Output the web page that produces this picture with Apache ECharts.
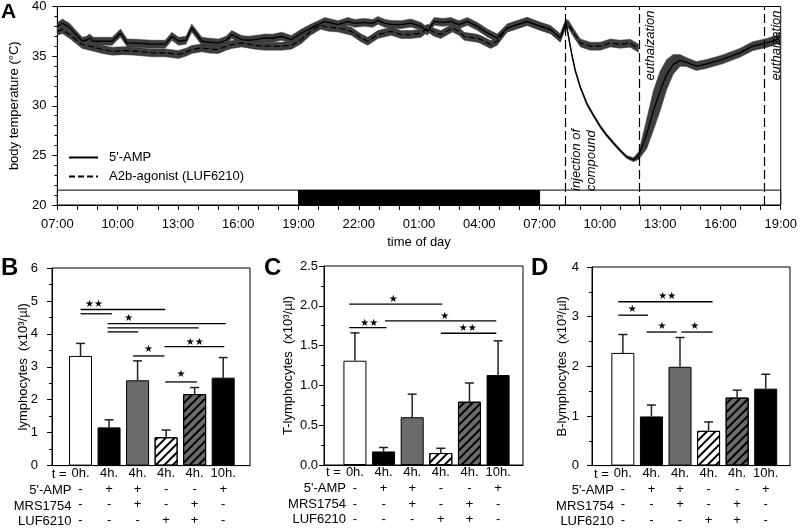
<!DOCTYPE html>
<html>
<head>
<meta charset="utf-8">
<script src="https://cdn.jsdelivr.net/npm/echarts@6/dist/echarts.min.js"></script>
<style>
    html, body { margin: 0; padding: 0; background: #fff; }
    #main { width: 800px; height: 528px; }
</style>
</head>
<body>
<div id="main"></div>
<script>
    // ---- panel A: body temperature, [hours after 07:00, mean, sem] ----
    var ampTemp = [
        [0, 38.0, 0.4], [0.25, 38.33, 0.4], [0.6, 37.9, 0.4], [1.24, 36.5, 0.4], [1.45, 36.6, 0.4], [1.6, 36.83, 0.4],
        [1.8, 36.5, 0.4], [2.23, 36.5, 0.4], [2.73, 36.5, 0.4], [3.14, 37.33, 0.4], [3.47, 36.33, 0.4], [3.88, 36.3, 0.4],
        [4.71, 36.2, 0.4], [5.37, 36.2, 0.4], [5.7, 37.0, 0.4], [6.03, 36.5, 0.4], [6.4, 36.6, 0.4], [6.69, 37.83, 0.4],
        [7.19, 36.5, 0.4], [7.6, 36.4, 0.4], [8.02, 36.33, 0.4], [8.4, 36.6, 0.4], [8.68, 37.17, 0.4], [9.17, 36.67, 0.4],
        [9.5, 36.6, 0.4], [9.83, 36.67, 0.4], [10.33, 36.83, 0.4], [10.7, 36.8, 0.4], [11.16, 37.0, 0.4], [11.65, 36.67, 0.4],
        [12.15, 37.33, 0.4], [12.6, 37.8, 0.4], [12.98, 38.17, 0.4], [13.31, 38.5, 0.4], [13.97, 38.17, 0.4], [14.46, 38.5, 0.4],
        [14.8, 38.3, 0.4], [15.29, 38.4, 0.4], [15.7, 38.3, 0.4], [15.95, 38.6, 0.4], [16.3, 38.3, 0.4], [16.61, 38.2, 0.4],
        [17.1, 38.17, 0.4], [17.6, 38.33, 0.4], [18.1, 38.0, 0.4], [18.42, 37.5, 0.4], [18.75, 38.5, 0.4], [19.2, 38.4, 0.4],
        [19.58, 38.5, 0.4], [19.99, 38.17, 0.4], [20.41, 38.5, 0.4], [20.9, 38.0, 0.4], [21.4, 37.33, 0.4], [21.89, 36.83, 0.4],
        [22.39, 37.83, 0.4], [22.89, 38.17, 0.4], [23.38, 38.5, 0.4], [24.04, 38.0, 0.4], [24.54, 37.67, 0.4], [25.03, 36.83, 0.4],
        [25.31, 38.4, 0.3], [25.45, 36.83, 0.15], [25.6, 35.2, 0.15], [25.78, 33.5, 0.15], [26.03, 31.83, 0.15], [26.36, 30.17, 0.15],
        [26.69, 29.0, 0.15], [27.02, 27.9, 0.15], [27.35, 27.0, 0.15], [27.68, 26.23, 0.15], [28.01, 25.5, 0.15], [28.34, 24.83, 0.15],
        [28.67, 24.57, 0.2], [28.94, 25.0, 0.4], [29.33, 27.17, 1.5], [29.66, 29.5, 2.0], [30.0, 31.5, 2.0], [30.33, 33.17, 1.5],
        [30.65, 34.17, 1.0], [30.99, 34.57, 0.6], [31.3, 34.4, 0.45], [31.8, 34.0, 0.45], [32.3, 34.2, 0.45], [33.1, 34.67, 0.45],
        [33.96, 35.33, 0.45], [34.6, 36.0, 0.45], [35.3, 36.33, 0.45], [35.94, 36.75, 0.45]
    ];
    var lufTemp = [
        [0, 37.5, 0.4], [0.25, 37.67, 0.4], [0.6, 37.2, 0.4], [1.24, 36.17, 0.4], [1.8, 35.9, 0.4], [2.23, 35.67, 0.4],
        [2.73, 35.5, 0.4], [3.3, 35.55, 0.4], [3.88, 35.5, 0.4], [4.71, 35.33, 0.4], [5.37, 35.33, 0.4], [6.03, 35.17, 0.4],
        [6.4, 35.4, 0.4], [6.69, 35.67, 0.4], [7.19, 35.83, 0.4], [7.6, 35.7, 0.4], [8.02, 35.67, 0.4], [8.4, 36.0, 0.4],
        [8.68, 36.17, 0.4], [9.17, 36.33, 0.4], [9.83, 36.1, 0.4], [10.33, 36.0, 0.4], [11.16, 36.0, 0.4], [11.65, 36.1, 0.4],
        [12.15, 36.67, 0.4], [12.6, 37.5, 0.4], [13.1, 38.1, 0.4], [13.5, 37.9, 0.4], [13.97, 37.83, 0.4], [14.63, 37.5, 0.4],
        [15.12, 36.83, 0.4], [15.45, 36.5, 0.4], [15.95, 37.17, 0.4], [16.61, 37.5, 0.4], [17.1, 37.17, 0.4], [17.6, 37.17, 0.4],
        [18.1, 37.3, 0.4], [18.42, 37.83, 0.4], [18.75, 37.4, 0.4], [19.08, 37.17, 0.4], [19.66, 37.83, 0.4], [19.99, 37.5, 0.4],
        [20.24, 37.0, 0.4], [20.9, 36.8, 0.4], [21.07, 36.67, 0.4], [21.56, 36.17, 0.4], [21.89, 36.5, 0.4], [22.39, 37.83, 0.4],
        [22.89, 38.17, 0.4], [23.38, 38.5, 0.4], [24.04, 38.0, 0.4], [24.54, 37.67, 0.4], [25.03, 36.83, 0.4], [25.31, 38.3, 0.4],
        [25.45, 38.17, 0.4], [25.7, 37.33, 0.4], [26.03, 36.33, 0.4], [26.52, 36.0, 0.4], [27.02, 36.0, 0.4], [27.52, 36.33, 0.4],
        [28.01, 36.2, 0.4], [28.51, 36.3, 0.4], [28.92, 35.8, 0.4]
    ];
    // light / dark phases: [from h, to h, dark?]
    var photoPeriod = [[0, 12, 0], [12, 24, 1], [24, 36, 0]];
    var eventHours = [25.28, 28.95, 35.2];
    var eventNames = ['injection of\ncompound', 'euthaization', 'euthaization'];
    var seriesNames = ["5'-AMP", 'A2b-agonist (LUF6210)'];

    // ---- panels B-D ----
    var groupTime = ['0h.', '4h.', '4h.', '4h.', '4h.', '10h.'];
    var rowAmp = ['-', '+', '+', '-', '-', '+'];
    var rowMrs = ['-', '-', '+', '-', '+', '-'];
    var rowLuf = ['-', '-', '-', '+', '+', '-'];
    var rowNames = ['t =', "5'-AMP", 'MRS1754', 'LUF6210'];

    var lymphMean = [3.33, 1.16, 2.59, 0.86, 2.17, 2.67];
    var lymphTop = [3.71, 1.39, 3.18, 1.08, 2.37, 3.28];
    var tMean = [1.31, 0.17, 0.60, 0.15, 0.795, 1.13];
    var tTop = [1.66, 0.22, 0.89, 0.21, 1.03, 1.56];
    var bMean = [2.27, 0.99, 1.99, 0.70, 1.37, 1.55];
    var bTop = [2.64, 1.22, 2.58, 0.88, 1.52, 1.84];

    // significance lines [from group, to group, y] and stars [group, y, text]
    var lymphSig = [[0, 2.97, 4.74], [0, 1.1, 4.61], [0.95, 5.09, 4.31], [0.95, 4.14, 4.18], [0.95, 2.02, 4.06],
        [1.84, 2.94, 3.33], [2.94, 5.04, 3.61], [2.97, 4.08, 2.54]];
    var lymphStars = [[0.47, 4.89, '**'], [1.69, 4.47, '*'], [2.38, 3.53, '*'], [4.0, 3.75, '**'], [3.52, 2.77, '*']];
    var tSig = [[-0.2, 3.05, 2.02], [-0.2, 1.1, 1.725], [1.05, 4.94, 1.81], [3.0, 4.94, 1.655]];
    var tStars = [[1.34, 2.08, '*'], [0.5, 1.78, '**'], [3.14, 1.87, '*'], [3.94, 1.71, '**']];
    var bSig = [[-0.16, 3.14, 3.30], [-0.16, 0.88, 3.03], [0.83, 1.88, 2.69], [2.05, 3.14, 2.69]];
    var bStars = [[1.55, 3.41, '**'], [0.33, 3.14, '*'], [1.37, 2.81, '*'], [2.52, 2.81, '*']];

    var FONT = 'Liberation Sans';
    var grey = '#6b6b6b';
    var barLook = [
        {color: '#fff'}, {color: '#000'}, {color: grey},
        {color: '#fff', hatch: true}, {color: grey, hatch: true}, {color: '#000'}
    ];

    var chart = echarts.init(document.getElementById('main'));

    function hourLabel(h) {
        var c = (7 + h) % 24;
        return (c < 10 ? '0' : '') + c + ':00';
    }

    function bandRender(points) {
        return function (params, api) {
            if (params.dataIndex !== 0) {
                return null;
            }
            var upper = [], lower = [];
            points.forEach(function (p) {
                upper.push(api.coord([p[0], p[1] + p[2]]));
                lower.unshift(api.coord([p[0], p[1] - p[2]]));
            });
            return {
                type: 'polygon',
                shape: {points: upper.concat(lower)},
                style: {fill: '#3d3d3d', stroke: '#3d3d3d', lineWidth: 0.5}
            };
        };
    }

    var black = {color: '#000'};
    var grids = [{left: 55, top: 5, width: 726, height: 200, show: true, borderColor: '#000', borderWidth: 1}];
    var xAxes = [{
        gridIndex: 0, type: 'value', min: 0, max: 36, interval: 3,
        axisLine: {lineStyle: black},
        axisTick: {length: 5, lineStyle: black},
        minorTick: {show: true, splitNumber: 3, length: 5, lineStyle: black},
        splitLine: {show: false},
        axisLabel: {formatter: hourLabel, fontSize: 13, color: '#000', margin: 13},
        name: 'time of day', nameLocation: 'middle', nameGap: 31,
        nameTextStyle: {fontSize: 13, color: '#000'}
    }];
    var yAxes = [{
        gridIndex: 0, type: 'value', min: 20, max: 40, interval: 5,
        axisLine: {lineStyle: black},
        axisTick: {length: 5, lineStyle: black},
        minorTick: {show: true, splitNumber: 5, length: 3, lineStyle: black},
        splitLine: {show: false},
        axisLabel: {fontSize: 13, color: '#000', margin: 11},
        name: 'body temperature (°C)', nameLocation: 'middle', nameGap: 36,
        nameTextStyle: {fontSize: 13, color: '#000'}
    }];

    var series = [
        {
            type: 'custom', name: 'photoperiod', xAxisIndex: 0, yAxisIndex: 0, silent: true,
            data: photoPeriod,
            encode: {x: [0, 1]},
            renderItem: function (params, api) {
                var a = api.coord([api.value(0), 21.5]);
                var b = api.coord([api.value(1), 20]);
                return {
                    type: 'rect',
                    shape: {x: a[0], y: a[1], width: b[0] - a[0], height: b[1] - a[1]},
                    style: {fill: api.value(2) ? '#000' : '#fff', stroke: '#000', lineWidth: 1}
                };
            }
        },
        {
            type: 'custom', name: 'ampBand', xAxisIndex: 0, yAxisIndex: 0, silent: true,
            data: ampTemp, encode: {x: 0, y: 1},
            renderItem: bandRender(ampTemp)
        },
        {
            type: 'custom', name: 'lufBand', xAxisIndex: 0, yAxisIndex: 0, silent: true,
            data: lufTemp, encode: {x: 0, y: 1},
            renderItem: bandRender(lufTemp)
        },
        {
            type: 'line', name: seriesNames[0], xAxisIndex: 0, yAxisIndex: 0,
            data: ampTemp.map(function (p) { return [p[0], p[1]]; }),
            symbol: 'none', z: 5,
            lineStyle: {color: '#000', width: 1.3},
            itemStyle: {color: '#000'}
        },
        {
            type: 'line', name: seriesNames[1], xAxisIndex: 0, yAxisIndex: 0,
            data: lufTemp.map(function (p) { return [p[0], p[1]]; }),
            symbol: 'none', z: 5,
            lineStyle: {color: '#000', width: 1.2, type: [6, 3]},
            itemStyle: {color: '#000'},
            markLine: {
                silent: true, symbol: ['none', 'none'],
                lineStyle: {color: '#000', width: 1.2, type: [9, 4]},
                data: eventHours.map(function (h, i) {
                    return {
                        xAxis: h,
                        label: {
                            show: true, formatter: eventNames[i],
                            position: i === 0 ? 'insideStartBottom' : 'insideEndBottom',
                            distance: i === 0 ? [14, 4] : [4, 4],
                            fontStyle: 'italic', fontSize: 13, color: '#000', lineHeight: 15
                        }
                    };
                })
            }
        }
    ];

    var panels = [
        {letter: 'B', grid: {left: 52, top: 268, width: 198, height: 199}, xMin: -1, xMax: 5.94,
            yMax: 6, yStep: 1, digits: 0, labelMargin: 14, nameGap: 22, name: 'lymphocytes  (x10³/µl)',
            mean: lymphMean, top: lymphTop, sig: lymphSig, stars: lymphStars},
        {letter: 'C', grid: {left: 324, top: 266, width: 199, height: 199}, xMin: -1.08, xMax: 5.87,
            yMax: 2.5, yStep: 0.5, digits: 1, labelMargin: 6, nameGap: 29, name: 'T-lymphocytes  (x10³/µl)',
            mean: tMean, top: tTop, sig: tSig, stars: tStars},
        {letter: 'D', grid: {left: 592, top: 267, width: 198, height: 200}, xMin: -1.08, xMax: 5.85,
            yMax: 4, yStep: 1, digits: 0, labelMargin: 13, nameGap: 23, name: 'B-lymphocytes  (x10³/µl)',
            mean: bMean, top: bTop, sig: bSig, stars: bStars}
    ];
    var groupIdx = groupTime.map(function (t, i) { return i; });

    panels.forEach(function (p, n) {
        var k = n + 1;
        grids.push(Object.assign({show: true, borderColor: '#000', borderWidth: 1}, p.grid));
        xAxes.push({
            gridIndex: k, type: 'value', min: p.xMin, max: p.xMax,
            axisLine: {onZero: false, lineStyle: black},
            axisTick: {show: false},
            splitLine: {show: false},
            axisLabel: {
                customValues: groupIdx, fontSize: 13, color: '#000', margin: 0, lineHeight: 15.6,
                formatter: function (v) {
                    var i = Math.round(v);
                    return [groupTime[i], rowAmp[i], rowMrs[i], rowLuf[i]].join('\n');
                }
            }
        });
        yAxes.push({
            gridIndex: k, type: 'value', min: 0, max: p.yMax, interval: p.yStep,
            axisLine: {onZero: false, lineStyle: black},
            axisTick: {length: 5, lineStyle: black},
            minorTick: {show: true, splitNumber: 2, length: 3, lineStyle: black},
            splitLine: {show: false},
            axisLabel: {
                fontSize: 13, color: '#000', margin: p.labelMargin,
                formatter: function (v) { return v.toFixed(p.digits); }
            },
            name: p.name, nameLocation: 'middle', nameGap: p.nameGap, nameMoveOverlap: false,
            nameTextStyle: {fontSize: 13, color: '#000'}
        });
        series.push({
            type: 'bar', xAxisIndex: k, yAxisIndex: k, barWidth: 23,
            data: p.mean.map(function (v, i) {
                var look = barLook[i];
                var style = {color: look.color, borderColor: '#000', borderWidth: 1};
                if (look.hatch) {
                    style.decal = {
                        symbol: 'rect', symbolSize: 1, color: '#000',
                        dashArrayX: [1, 0], dashArrayY: [1.2, 3.3], rotation: -Math.PI / 4
                    };
                }
                return {value: [i, v], itemStyle: style};
            })
        });
        series.push({
            type: 'custom', xAxisIndex: k, yAxisIndex: k, z: 4, silent: true,
            data: p.mean.map(function (v, i) { return [i, v, p.top[i]]; }),
            encode: {x: 0, y: [1, 2]},
            renderItem: function (params, api) {
                var a = api.coord([api.value(0), api.value(1)]);
                var b = api.coord([api.value(0), api.value(2)]);
                var st = {stroke: '#222', lineWidth: 1.5};
                return {type: 'group', children: [
                    {type: 'line', shape: {x1: a[0], y1: a[1], x2: b[0], y2: b[1]}, style: st},
                    {type: 'line', shape: {x1: b[0] - 4.5, y1: b[1], x2: b[0] + 4.5, y2: b[1]}, style: st}
                ]};
            }
        });
        series.push({
            type: 'custom', xAxisIndex: k, yAxisIndex: k, z: 4, silent: true,
            data: p.sig, encode: {x: [0, 1], y: 2},
            renderItem: function (params, api) {
                var a = api.coord([api.value(0), api.value(2)]);
                var b = api.coord([api.value(1), api.value(2)]);
                return {type: 'line', shape: {x1: a[0], y1: a[1], x2: b[0], y2: b[1]},
                    style: {stroke: '#000', lineWidth: 1.3}};
            }
        });
        series.push({
            type: 'custom', xAxisIndex: k, yAxisIndex: k, z: 4, silent: true,
            data: p.stars.map(function (s) { return [s[0], s[1]]; }),
            encode: {x: 0, y: 1},
            renderItem: function (params, api) {
                var c = api.coord([api.value(0), api.value(1)]);
                var txt = p.stars[params.dataIndex][2].replace(/\*/g, '★');
                return {type: 'text', x: c[0], y: c[1],
                    style: {text: txt, fill: '#000', font: '10px "DejaVu Sans"', align: 'center', verticalAlign: 'middle'}};
            }
        });
    });

    chart.setOption({
        animation: false,
        textStyle: {fontFamily: FONT},
        legend: {
            data: seriesNames, orient: 'vertical', left: 63, top: 146,
            itemWidth: 29, itemHeight: 14, itemGap: 6,
            itemStyle: {opacity: 0},
            textStyle: {fontSize: 13, color: '#000', padding: [0, 0, 0, 6]}
        },
        grid: grids,
        xAxis: xAxes,
        yAxis: yAxes,
        series: series
    });

    // panel letters and the row headers of the treatment table
    var graphics = [
        {type: 'text', left: 1, top: 2, style: {text: 'A', font: 'bold 21px ' + FONT, fill: '#000'}},
        {type: 'text', left: 1, top: 256, style: {text: 'B', font: 'bold 24px ' + FONT, fill: '#000'}},
        {type: 'text', left: 264, top: 256, style: {text: 'C', font: 'bold 24px ' + FONT, fill: '#000'}},
        {type: 'text', left: 531, top: 256, style: {text: 'D', font: 'bold 24px ' + FONT, fill: '#000'}}
    ];
    panels.forEach(function (p, n) {
        var x0 = chart.convertToPixel({xAxisIndex: n + 1}, 0);
        var yBase = p.grid.top + p.grid.height;
        rowNames.forEach(function (r, j) {
            graphics.push({
                type: 'text', x: x0 - (j === 0 ? 14 : 9), y: yBase + 15.6 * (j + 0.5),
                style: {text: r, font: '13px ' + FONT, fill: '#000', align: 'right', verticalAlign: 'middle'}
            });
        });
    });
    chart.setOption({graphic: graphics});
</script>
</body>
</html>
